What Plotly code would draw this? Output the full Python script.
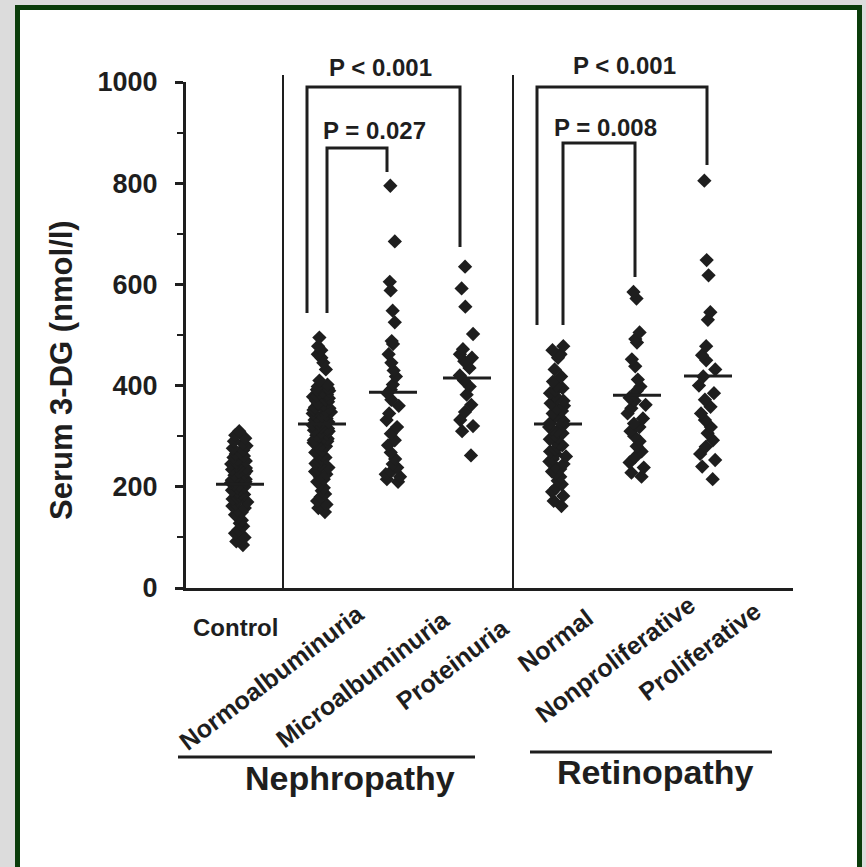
import plotly.graph_objects as go

# ---------------- data ----------------
groups = ["Control", "Normoalbuminuria", "Microalbuminuria", "Proteinuria",
          "Normal", "Nonproliferative", "Proliferative"]

control = [310, 302, 296, 290, 286, 281, 276, 272, 269, 265, 261, 258, 254, 251, 248,
           245, 242, 239, 237, 234, 231, 229, 226, 223, 221, 218, 215, 213, 210, 208,
           205, 203, 200, 198, 195, 193, 190, 187, 185, 182, 179, 176, 173, 170, 166,
           162, 158, 154, 150, 145, 140, 134, 128, 122, 115, 108, 100, 92, 85]
normo = [495, 478, 470, 462, 455, 445, 432, 410, 402, 398, 395, 392, 390, 388, 385,
         382, 380, 378, 375, 372, 370, 368, 365, 362, 360, 357, 355, 352, 350, 348,
         345, 342, 340, 338, 335, 332, 330, 328, 325, 322, 320, 318, 315, 312, 310,
         307, 305, 302, 300, 298, 295, 292, 290, 287, 285, 282, 280, 276, 272, 268,
         265, 262, 258, 255, 250, 246, 242, 238, 234, 230, 225, 220, 215, 210, 205,
         198, 192, 186, 180, 172, 165, 158, 150]
micro = [795, 685, 605, 588, 548, 525, 488, 482, 462, 445, 430, 418, 402, 392, 385,
         372, 360, 345, 332, 318, 305, 292, 282, 268, 255, 245, 238, 230, 225, 220,
         215, 210]
protein = [635, 592, 556, 502, 472, 462, 455, 448, 435, 420, 410, 398, 382, 362, 348,
           332, 320, 310, 262]
normal = [478, 470, 462, 455, 432, 418, 408, 400, 395, 390, 385, 380, 375, 370, 365,
          360, 355, 350, 345, 340, 335, 330, 326, 322, 318, 314, 310, 306, 302, 298,
          294, 290, 286, 282, 278, 274, 270, 265, 260, 255, 250, 245, 240, 235, 230,
          225, 220, 212, 205, 198, 190, 182, 172, 162]
nonprolif = [585, 572, 505, 492, 485, 452, 438, 412, 398, 390, 382, 376, 370, 362, 355,
             345, 335, 325, 318, 310, 300, 290, 280, 270, 258, 248, 238, 228, 220]
prolif = [805, 648, 618, 545, 530, 478, 460, 450, 432, 418, 400, 385, 372, 358, 345,
          332, 318, 306, 292, 279, 265, 253, 240, 215]
values = [control, normo, micro, protein, normal, nonprolif, prolif]
means = [205, 324, 387, 415, 324, 381, 419]

y_ticks = [0, 200, 400, 600, 800, 1000]
p_labels = ["P < 0.001", "P = 0.027", "P < 0.001", "P = 0.008"]
y_title = "Serum 3-DG (nmol/l)"
section_labels = ["Nephropathy", "Retinopathy"]

# ---------------- layout geometry ----------------
FW, FH = 866, 867
L, T, R, B = 186, 82, 793, 588
W, H = R - L, B - T
INK = "#1e1e1e"
FONT = "Liberation Sans"


def px(p):   # horizontal pixel -> paper
    return (p - L) / W


def py(p):   # vertical pixel -> paper
    return (B - p) / H


def yv(p):   # vertical pixel -> data value
    return (B - p) / H * 1000


positions = [54, 136, 207, 281, 372, 451, 522]  # x-axis units (pixels from axis origin)

fig = go.Figure()

for g, vals, pos in zip(groups, values, positions):
    fig.add_trace(go.Box(
        x=[pos] * len(vals), y=vals, name=g,
        boxpoints="all", jitter=0.65, pointpos=0, width=30,
        fillcolor="rgba(0,0,0,0)", line=dict(color="rgba(0,0,0,0)", width=0),
        marker=dict(symbol="diamond", size=11, color=INK, line=dict(width=0)),
        showlegend=False, hoveron="points"))

# mean bars
mx, my = [], []
for pos, m in zip(positions, means):
    mx += [pos - 24, pos + 24, None]
    my += [m, m, None]
fig.add_trace(go.Scatter(x=mx, y=my, mode="lines", line=dict(color=INK, width=3),
                         showlegend=False, hoverinfo="skip"))

# significance brackets (x units, pixel-derived y)
brackets = [
    ([121, 121, 274, 274], [313, 87, 87, 247]),
    ([141, 141, 201, 201], [313, 148, 148, 172]),
    ([351, 351, 521, 521], [325, 87, 87, 165]),
    ([377, 377, 449, 449], [325, 143, 143, 277]),
]
for bx, byp in brackets:
    fig.add_trace(go.Scatter(x=bx, y=[yv(v) for v in byp], mode="lines",
                             line=dict(color=INK, width=3), showlegend=False,
                             hoverinfo="skip"))

shapes = []
# outer frame
shapes.append(dict(type="rect", xref="paper", yref="paper",
                   x0=px(17.5), x1=px(859.5), y0=py(900), y1=py(7.5),
                   line=dict(color="#0b3d0b", width=5), fillcolor="white",
                   layer="below"))
# vertical separators
for sx in [283, 513]:
    shapes.append(dict(type="line", xref="paper", yref="paper",
                       x0=px(sx), x1=px(sx), y0=py(B), y1=py(75),
                       line=dict(color=INK, width=2)))
# section underlines
shapes.append(dict(type="line", xref="paper", yref="paper", x0=px(178), x1=px(475),
                   y0=py(757), y1=py(757), line=dict(color=INK, width=3)))
shapes.append(dict(type="line", xref="paper", yref="paper", x0=px(530), x1=px(772),
                   y0=py(752), y1=py(752), line=dict(color=INK, width=3)))

ann = []
# P-value labels
for txt, (cx, cy) in zip(p_labels, [(380, 68), (374, 130), (624, 66), (605, 127)]):
    ann.append(dict(text=txt, xref="paper", yref="paper", x=px(cx), y=py(cy),
                    xanchor="center", yanchor="middle", showarrow=False,
                    font=dict(family=FONT, size=24, color=INK, weight="bold")))
# category labels
ann.append(dict(text=groups[0], xref="paper", yref="paper", x=px(235), y=py(627),
                xanchor="center", yanchor="middle", showarrow=False,
                font=dict(family=FONT, size=24, color=INK, weight="bold")))
rot_anchor = [(372, 596), (457, 602), (517, 610), (601, 600), (703, 587), (769, 593)]
for g, (ax, ay) in zip(groups[1:], rot_anchor):
    ann.append(dict(text=g, xref="paper", yref="paper", x=px(ax), y=py(ay),
                    xanchor="right", yanchor="top", textangle=-37, showarrow=False,
                    font=dict(family=FONT, size=25, color=INK, weight="bold")))
# section labels
for txt, (cx, cy) in zip(section_labels, [(350, 778), (655, 772)]):
    ann.append(dict(text=txt, xref="paper", yref="paper", x=px(cx), y=py(cy),
                    xanchor="center", yanchor="middle", showarrow=False,
                    font=dict(family=FONT, size=34, color=INK, weight="bold")))
# y-axis title
ann.append(dict(text=y_title, xref="paper", yref="paper", x=px(61), y=py(370),
                xanchor="center", yanchor="middle", textangle=-90, showarrow=False,
                font=dict(family=FONT, size=31, color=INK, weight="bold")))

fig.update_layout(
    width=FW, height=FH,
    margin=dict(l=L, r=FW - R, t=T, b=FH - B, pad=0),
    paper_bgcolor="#dcdcdc", plot_bgcolor="rgba(0,0,0,0)",
    shapes=shapes, annotations=ann, boxmode="overlay",
    xaxis=dict(range=[0, W], showline=True, linewidth=3, linecolor=INK,
               showticklabels=False, ticks="", showgrid=False, zeroline=False,
               fixedrange=True),
    yaxis=dict(range=[0, 1000], tickvals=y_ticks, showline=True, linewidth=3,
               linecolor=INK, ticks="outside", ticklen=8, tickwidth=3, tickcolor=INK,
               minor=dict(dtick=100, ticks="outside", ticklen=6, tickwidth=2,
                          tickcolor=INK),
               ticklabelstandoff=12,
               tickfont=dict(family=FONT, size=27, color=INK, weight="bold"),
               showgrid=False, zeroline=False, fixedrange=True),
)

fig.write_html("out.html")
